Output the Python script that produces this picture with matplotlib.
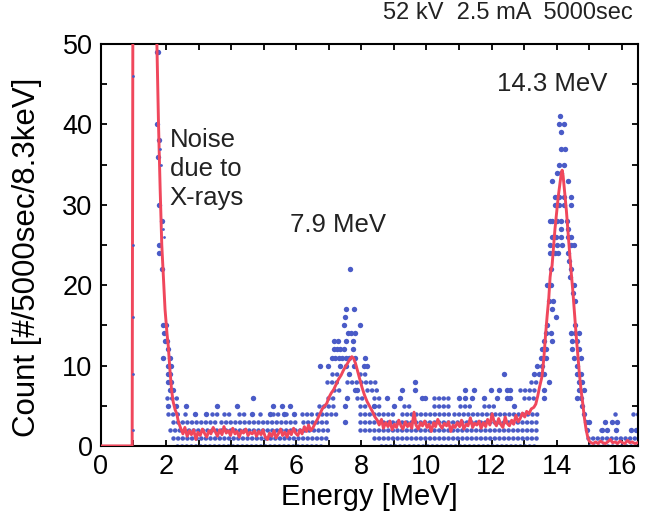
import matplotlib.pyplot as plt
from matplotlib.ticker import MultipleLocator

plt.rcParams["font.family"] = ["Liberation Sans", "DejaVu Sans"]

BLUE = "#4a5bc7"
RED = "#f0475c"

# Smoothed spectrum (red curve), energy in MeV
fit_energy = [
    0.0, 0.96, 0.985, 1.69, 1.72, 1.77, 1.82, 1.87, 1.92, 1.97, 2.03, 2.07,
    2.12, 2.17, 2.22, 2.28, 2.33, 2.38, 2.43,
    2.45, 2.52, 2.58, 2.65, 2.72, 2.78, 2.85, 2.92, 2.98, 3.05, 3.12, 3.18,
    3.25, 3.32, 3.38, 3.45, 3.52, 3.58, 3.65, 3.72, 3.78, 3.85, 3.92, 3.98,
    4.05, 4.12, 4.18, 4.25, 4.32, 4.38, 4.45, 4.52, 4.58, 4.65, 4.72, 4.78,
    4.85, 4.92, 4.98, 5.05, 5.12, 5.18, 5.25, 5.32, 5.38, 5.45, 5.52, 5.58,
    5.65, 5.72, 5.78, 5.85, 5.92, 5.98, 6.05, 6.12, 6.18, 6.25, 6.32, 6.38,
    6.45, 6.52,
    6.58, 6.65, 6.72, 6.80, 6.88, 6.94, 7.00, 7.08, 7.15, 7.22, 7.30, 7.38,
    7.45, 7.52, 7.58, 7.65, 7.71, 7.76, 7.82, 7.88, 7.95, 8.02, 8.10, 8.18,
    8.26, 8.34, 8.42, 8.49,
    8.55, 8.62, 8.68, 8.75, 8.82, 8.88, 8.95, 9.02, 9.08, 9.15, 9.22, 9.28,
    9.35, 9.42, 9.48, 9.55, 9.62, 9.68, 9.75, 9.82, 9.88, 9.95, 10.02, 10.08,
    10.15, 10.22, 10.28, 10.35, 10.42, 10.48, 10.55, 10.62, 10.68, 10.75,
    10.82, 10.88, 10.95, 11.02, 11.08, 11.15, 11.22, 11.28, 11.35, 11.42,
    11.48, 11.55, 11.62, 11.68, 11.75, 11.82, 11.88, 11.95, 12.02, 12.08,
    12.15, 12.22, 12.28, 12.35, 12.42, 12.48, 12.55, 12.62, 12.68, 12.75,
    12.82, 12.88, 12.95, 13.02, 13.08,
    13.15, 13.22, 13.30, 13.36, 13.42, 13.48, 13.55, 13.61, 13.66, 13.71,
    13.76, 13.80, 13.83, 13.86, 13.90, 13.95, 14.00, 14.05, 14.10, 14.14,
    14.17, 14.20, 14.25, 14.30, 14.35, 14.40, 14.45, 14.50, 14.55, 14.60,
    14.65, 14.70, 14.75, 14.80, 14.85, 14.90, 14.95, 15.00,
    15.06, 15.12, 15.20, 15.27, 15.35, 15.42, 15.50, 15.57, 15.65, 15.72,
    15.80, 15.87, 15.95, 16.02, 16.10, 16.18, 16.25, 16.32, 16.40, 16.50,
]
fit_count = [
    0.0, 0.0, 60.0, 60.0, 50.0, 40.0, 32.0, 25.0, 21.0, 17.0, 14.0, 12.4,
    9.5, 7.0, 5.5, 4.5, 4.0, 3.0, 2.4,
    2.2, 1.5, 2.3, 1.2, 1.9, 1.4, 2.0, 0.8, 1.7, 1.3, 2.1, 1.6,
    1.1, 1.9, 1.5, 2.3, 1.7, 1.2, 2.0, 1.4, 2.4, 1.6, 1.9, 1.3,
    2.2, 1.5, 1.8, 1.1, 1.9, 1.6, 2.1, 1.3, 1.7, 1.5, 1.9, 1.2,
    1.8, 1.4, 2.0, 1.1, 0.8, 1.6, 1.2, 1.9, 1.0, 1.5, 2.1, 1.3,
    1.7, 1.1, 1.9, 1.4, 2.2, 1.6, 1.3, 2.0, 1.5, 2.4, 1.8, 2.6,
    1.9, 2.3,
    2.8, 3.3, 3.9, 4.6, 5.0, 5.3, 6.0, 6.6, 7.0, 7.6, 8.3, 8.8,
    9.4, 9.9, 10.3, 10.8, 11.1, 10.9, 10.3, 9.4, 8.4, 7.3, 6.3, 5.5,
    4.9, 4.3, 3.6, 3.2,
    2.6, 3.3, 2.2, 2.9, 2.4, 3.1, 2.0, 2.7, 2.3, 3.2, 2.5, 2.1,
    3.0, 2.4, 2.8, 2.2, 4.2, 2.6, 2.1, 2.9, 2.5, 3.1, 2.3, 2.7,
    1.8, 2.9, 2.4, 3.3, 2.6, 2.2, 2.8, 2.5, 3.0, 1.8,
    2.6, 2.3, 2.9, 2.4, 3.2, 2.1, 2.7, 2.5, 3.5, 2.3,
    2.8, 2.6, 3.1, 2.2, 2.9, 2.4, 3.3, 2.6, 4.0, 3.0,
    2.5, 3.4, 2.7, 2.3, 3.6, 2.8, 2.5, 3.2, 2.7, 3.8,
    3.0, 3.4, 4.1, 3.6, 4.3,
    4.0, 4.6, 4.8, 5.2, 6.2, 7.4, 8.6, 11.0, 13.8, 16.2,
    18.4, 21.0, 22.0, 22.4, 24.5, 27.0, 29.0, 31.0, 32.5, 33.8,
    34.3, 33.6, 31.5, 29.3, 26.6, 24.0, 21.5, 19.2, 16.5, 13.8,
    11.4, 9.0, 7.0, 5.4, 3.6, 2.2, 1.2, 0.6,
    0.4, 0.3, 0.5, 0.3, 0.6, 0.4, 0.3, 0.5, 0.8, 0.4,
    0.5, 0.3, 0.6, 0.4, 0.3, 0.7, 0.4, 0.5, 0.3, 0.4,
]

# Runs of neighbouring bins with the same count: count, first and last energy
band_count = [
    0, 0, 0,
    1, 1, 1,
    2, 2, 2,
    3, 3, 3, 3, 3,
    4, 4, 4, 4, 4, 4, 4, 4, 4, 4, 4, 4, 4, 4, 4, 4,
    5, 5, 5, 5, 5, 5, 5,
    6, 6, 6, 6, 6, 6,
    7, 7, 7,
    8, 8, 8,
    9, 9,
]
band_start = [
    2.33, 8.60, 15.00,
    2.23, 8.38, 14.95,
    2.12, 7.97, 15.35,
    2.20, 3.70, 5.10, 6.20, 7.97,
    2.07, 2.59, 3.41, 3.77, 4.23, 4.89, 5.30, 5.70, 6.18, 6.64, 7.97, 9.25,
    10.85, 12.10, 15.80, 16.35,
    6.69, 7.97, 8.38, 9.30, 10.23, 11.04, 11.76,
    2.02, 6.99, 7.87, 8.38, 10.23, 12.99,
    7.15, 8.18, 12.89,
    6.94, 7.56, 13.20,
    7.10, 7.97,
]
band_end = [
    6.75, 13.30, 16.50,
    6.94, 13.40, 16.50,
    7.05, 13.45, 15.45,
    3.60, 5.00, 6.10, 7.05, 13.50,
    2.43, 2.69, 3.56, 4.02, 4.48, 4.99, 5.45, 5.80, 6.53, 7.35, 9.10, 10.70,
    12.00, 13.50, 15.82, 16.50,
    7.15, 8.18, 8.60, 9.60, 10.74, 11.40, 12.17,
    2.38, 7.20, 8.07, 8.58, 10.74, 13.30,
    7.35, 8.58, 13.40,
    7.35, 8.48, 13.45,
    7.35, 8.18,
]

# Single bins along the falling X-ray edge
edge_energy = [
    1.71, 1.74, 1.71, 1.77, 1.74, 1.78, 1.88, 1.78, 1.79, 1.88,
    1.92, 2.00, 1.95, 1.97, 2.02, 2.07, 1.92, 2.12, 2.05, 2.14,
    2.07, 2.12, 2.05, 2.15, 2.12, 2.20, 2.07, 2.30, 2.62,
]
edge_count = [
    49, 49, 40, 38, 36, 30, 28, 25, 24, 22,
    15, 15, 14, 13, 13, 12, 11, 11, 10, 10,
    9, 9, 8, 8, 7, 7, 5, 5, 5,
]
# Faint bins drawn with a smaller marker
faint_energy = [0.98, 0.98, 0.98, 0.98, 0.98, 1.82, 1.84, 1.92, 1.93]
faint_count = [46, 25, 16, 9, 2, 37, 35, 27, 26]

# Single bins on the flat parts of the spectrum
flat_energy = [
    2.89, 3.22, 4.64, 5.20, 5.61, 5.92,
    3.56, 4.18, 5.30, 5.56, 5.82, 8.38, 8.99, 12.68,
    4.67, 8.79, 9.20, 9.86, 9.97, 10.99, 11.20, 11.40, 11.76, 12.17, 12.48, 12.58,
    9.25, 9.66, 11.20, 11.46, 11.97, 12.22, 12.48, 12.58,
    9.66, 12.38,
    15.40, 15.56, 15.81, 16.28, 16.43,
    15.50, 15.70, 15.86,
]
flat_count = [
    4, 4, 4, 4, 4, 4,
    5, 5, 5, 5, 5, 5, 5, 5,
    6, 6, 6, 6, 6, 6, 6, 6, 6, 6, 6, 6,
    7, 7, 7, 7, 7, 7, 7, 7,
    8, 9,
    2, 2, 2, 2, 2,
    3, 3, 3,
]

# Single bins in the 7.9 MeV peak
peak8_energy = [
    7.66,
    7.52, 7.77,
    7.51,
    7.46, 7.95,
    7.58, 7.68, 7.80,
    7.15, 7.27, 7.54, 7.76,
    7.15, 7.25, 7.35, 7.46, 7.74,
    7.10, 7.20, 7.30, 7.42, 7.52, 7.62, 7.82, 8.12,
    6.74, 6.99, 7.35, 7.54, 7.79, 8.07, 8.18,
    7.61, 7.80, 7.87, 7.56, 7.51, 7.51,
]
peak8_count = [
    22,
    17, 17,
    16,
    15, 15,
    14, 14, 14,
    13, 13, 13, 13,
    12, 12, 12, 12, 12,
    11, 11, 11, 11, 11, 11, 11, 11,
    10, 10, 10, 10, 10, 10, 10,
    9, 7, 7, 6, 5, 3,
]

# Single bins in the 14.3 MeV peak
peak14_energy = [
    14.10,
    14.07, 14.23,
    14.15,
    14.12, 14.25,
    14.07, 14.23,
    14.02, 14.12,
    13.87, 14.35,
    13.94, 14.07, 14.23, 14.43,
    13.94, 14.07, 14.23, 14.43,
    13.80, 13.87, 14.00, 14.12, 14.33,
    14.12, 14.35,
    13.87, 13.97, 14.12, 14.35, 14.45,
    13.80, 14.00, 14.17, 14.43, 14.53,
    13.80, 13.94, 14.04, 14.35,
    14.38,
    13.84, 14.43,
    14.41,
    13.71, 13.84, 14.53,
    14.50,
    13.76, 13.90, 14.58,
    13.87,
    13.97,
    13.72, 14.56,
    13.66, 13.82, 14.43, 14.58, 14.69,
    13.61, 13.86, 14.48, 14.63,
    13.56, 13.66, 14.48, 14.69,
    13.51, 13.66, 14.53, 14.74,
    13.40, 13.55, 14.63,
    13.30, 13.45, 13.61, 14.63, 14.74,
    13.76, 14.69, 14.79,
    13.61, 14.69, 14.84,
    13.61, 14.63, 14.74,
    14.79, 14.84, 14.89, 14.99, 14.94,
]
peak14_count = [
    41,
    40, 40,
    39,
    37, 37,
    35, 35,
    34, 34,
    33, 33,
    31, 31, 31, 31,
    30, 30, 30, 30,
    28, 28, 28, 28, 28,
    27, 27,
    26, 26, 26, 26, 26,
    25, 25, 25, 25, 25,
    24, 24, 24, 24,
    23,
    22, 22,
    21,
    20, 20, 20,
    19,
    18, 18, 18,
    17,
    16,
    15, 15,
    14, 14, 14, 14, 14,
    13, 13, 13, 13,
    12, 12, 12, 12,
    11, 11, 11, 11,
    10, 10, 10,
    9, 9, 9, 9, 9,
    8, 8, 8,
    7, 7, 7,
    6, 6, 6,
    5, 4, 3, 3, 2,
]

fig = plt.figure(figsize=(6.51, 5.24), dpi=100)
ax = fig.add_axes([0.155, 0.149, 0.825, 0.767])

# dense runs of bins, drawn as a row of touching dots
for c, e0, e1 in zip(band_count, band_start, band_end):
    ax.plot([e0, e1], [c, c], color=BLUE, lw=3.3, linestyle=(0, (0.01, 1.0)),
            dash_capstyle="round", zorder=2)

dot_energy = edge_energy + flat_energy + peak8_energy + peak14_energy
dot_count = edge_count + flat_count + peak8_count + peak14_count
ax.scatter(dot_energy, dot_count, s=15, color=BLUE, linewidths=0, zorder=2)
ax.scatter(faint_energy, faint_count, s=4, color=BLUE, linewidths=0, zorder=4)

ax.plot(fit_energy, fit_count, color=RED, lw=2.1, zorder=3)

ax.set_xlim(0, 16.5)
ax.set_ylim(0, 50)
ax.xaxis.set_major_locator(MultipleLocator(2))
ax.xaxis.set_minor_locator(MultipleLocator(1))
ax.yaxis.set_major_locator(MultipleLocator(10))
ax.yaxis.set_minor_locator(MultipleLocator(5))
ax.tick_params(which="both", direction="in", top=True, right=True,
               length=4, width=1.3, labelsize=19.5, pad=6)
for sp in ax.spines.values():
    sp.set_linewidth(1.5)

ax.set_xlabel("Energy [MeV]", fontsize=21, labelpad=2)
ax.set_ylabel("Count [#/5000sec/8.3keV]", fontsize=22.5)
ax.yaxis.set_label_coords(-0.11, 0.47)

ax.text(2.12, 39.6, "Noise\ndue to\nX-rays", fontsize=18.5, va="top",
        ha="left", linespacing=1.27, color="#222222")
ax.text(5.82, 26.6, "7.9 MeV", fontsize=18.5, va="baseline", ha="left",
        color="#222222")
ax.text(12.18, 44.2, "14.3 MeV", fontsize=18.5, va="baseline", ha="left",
        color="#222222")
fig.text(0.588, 0.963, "52 kV  2.5 mA  5000sec", fontsize=17,
         va="baseline", ha="left", color="#222222")

fig.savefig("out.png", dpi=100)
